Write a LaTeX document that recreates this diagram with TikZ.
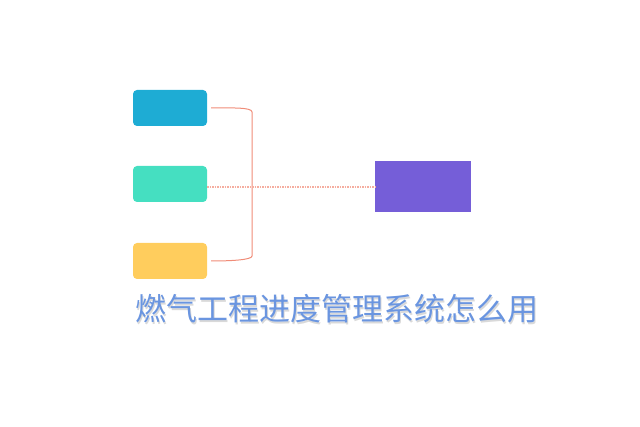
\documentclass[tikz,border=0pt]{standalone}
\usepackage{fontspec}
\newfontfamily\cjk{Noto Sans CJK SC}
\definecolor{cblue}{HTML}{1EACD4}
\definecolor{cgreen}{HTML}{45DFC1}
\definecolor{cyellow}{HTML}{FFCD5D}
\definecolor{cpurple}{HTML}{755ED8}
\definecolor{cline}{HTML}{F08C78}
\definecolor{ctitle}{HTML}{6A95E0}
\tikzset{box/.style={rounded corners=4pt,minimum width=74pt,minimum height=36pt,inner sep=0pt}}
\begin{document}
\begin{tikzpicture}[x=1pt,y=-1pt]
\useasboundingbox (0,0) rectangle (640,427);
\node[box,fill=cblue] (a) at (170,108) {};
\node[box,fill=cgreen] (b) at (170,184) {};
\node[box,fill=cyellow] (c) at (170,261) {};
\node[fill=cpurple,minimum width=96pt,minimum height=51pt,inner sep=0pt] (p) at (423,186.5) {};
\coordinate (t1) at (211,108);
\coordinate (t2) at (211,261);
\draw[cline,line width=1pt] (t1) .. controls (230,108) and (252,107) .. (252,112) -- (252,256) .. controls (252,260) and (230,261) .. (t2);
\draw[cline!70,line width=0.5pt,dash pattern=on 1.5pt off 1pt] ([yshift=-1pt]b.east|-p.west) -- ([yshift=-1pt]p.west);
\draw[cline!70,line width=0.5pt,dash pattern=on 1.5pt off 1pt] ([yshift=0.5pt]b.east|-p.west) -- ([yshift=0.5pt]p.west);
\node[anchor=west,inner sep=0pt,text=black!15] at (136.5,310.5) {\cjk\fontsize{31}{32}\selectfont 燃气工程进度管理系统怎么用};
\node[anchor=west,inner sep=0pt,text=ctitle] (title) at (135,309) {\cjk\fontsize{31}{32}\selectfont 燃气工程进度管理系统怎么用};
\end{tikzpicture}
\end{document}
